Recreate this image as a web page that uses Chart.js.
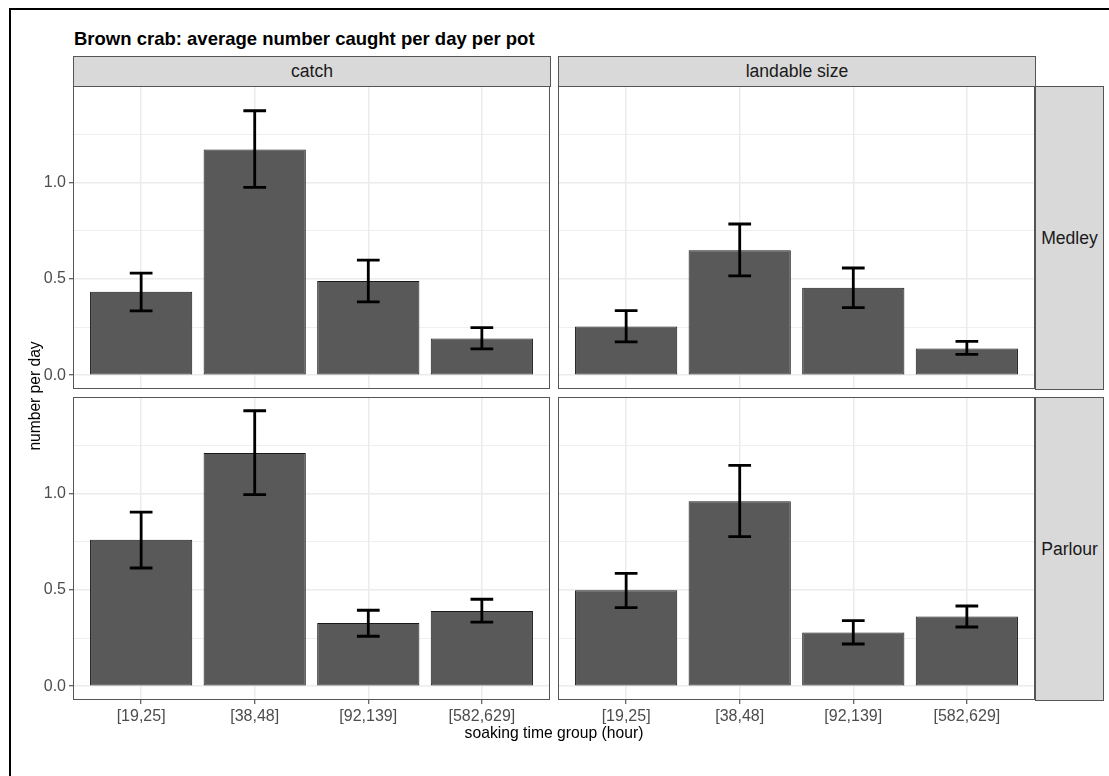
<!DOCTYPE html>
<html>
<head>
<meta charset="utf-8">
<script src="https://cdn.jsdelivr.net/npm/chart.js@4.4.1/dist/chart.umd.min.js"></script>
<style>
  body { margin: 0; background: #fff; font-family: "Liberation Sans", Arial, sans-serif; }
  #page { position: relative; width: 1109px; height: 776px; overflow: hidden; background: #fff; }
  canvas { position: absolute; }
  .line { position: absolute; background: #000; }
  .strip { position: absolute; box-sizing: border-box; background: #d9d9d9; border: 1px solid #555;
           color: #1a1a1a; font-size: 17.6px; display: flex; align-items: center; justify-content: center; }
  .txt { position: absolute; white-space: nowrap; }
</style>
</head>
<body>
<div id="page">
  <div class="line" style="left:9px;top:8px;width:2px;height:768px"></div>
  <div class="line" style="left:9px;top:8px;width:1100px;height:2px"></div>

  <div class="txt" style="left:74px;top:30px;font-size:18.5px;line-height:18px;font-weight:bold;color:#000">Brown crab: average number caught per day per pot</div>

  <div class="strip" style="left:73px;top:56px;width:478px;height:31px">catch</div>
  <div class="strip" style="left:558px;top:56px;width:478px;height:31px">landable size</div>
  <div class="strip" style="left:1035px;top:86px;width:69px;height:304px">Medley</div>
  <div class="strip" style="left:1035px;top:397px;width:69px;height:304px">Parlour</div>

  <canvas id="medleyCatch" width="527" height="303" style="left:23px;top:86px"></canvas>
  <canvas id="medleyLand" width="477" height="303" style="left:558px;top:86px"></canvas>
  <canvas id="parlourCatch" width="527" height="343" style="left:23px;top:397px"></canvas>
  <canvas id="parlourLand" width="477" height="343" style="left:558px;top:397px"></canvas>

  <div class="txt" style="left:-115px;top:387px;width:300px;text-align:center;font-size:15.6px;line-height:18px;color:#000;transform:rotate(-90deg)">number per day</div>
  <div class="txt" style="left:354px;top:724px;width:400px;text-align:center;font-size:15.7px;line-height:18px;color:#000">soaking time group (hour)</div>
</div>

<script>
const categories = ["[19,25]", "[38,48]", "[92,139]", "[582,629]"];
const yBreaks = [0, 0.25, 0.5, 0.75, 1, 1.25];
const yLabels = { 0: "0.0", 0.5: "0.5", 1: "1.0" };

// Medley
const medleyCatch = [0.433, 1.170, 0.489, 0.190];
const medleyCatchLo = [0.334, 0.974, 0.380, 0.137];
const medleyCatchHi = [0.529, 1.371, 0.597, 0.247];
const medleyLand = [0.252, 0.648, 0.453, 0.139];
const medleyLandLo = [0.173, 0.515, 0.350, 0.108];
const medleyLandHi = [0.335, 0.784, 0.556, 0.175];

// Parlour
const parlourCatch = [0.760, 1.209, 0.328, 0.390];
const parlourCatchLo = [0.613, 0.993, 0.259, 0.332];
const parlourCatchHi = [0.903, 1.428, 0.394, 0.451];
const parlourLand = [0.497, 0.959, 0.278, 0.361];
const parlourLandLo = [0.408, 0.776, 0.219, 0.307];
const parlourLandHi = [0.585, 1.145, 0.340, 0.416];

const FONT = "'Liberation Sans', Arial, sans-serif";

const panelFrame = {
  id: "panelFrame",
  afterDraw(chart) {
    const { ctx, chartArea: a } = chart;
    ctx.save();
    ctx.strokeStyle = "#555";
    ctx.lineWidth = 1;
    ctx.strokeRect(a.left + 0.5, a.top + 0.5, a.right - a.left - 1, a.bottom - a.top - 1);
    ctx.restore();
  },
};

// error bars drawn through the chart's own scales
const errorBars = {
  id: "errorBars",
  afterDatasetsDraw(chart) {
    const { ctx, scales: { x, y } } = chart;
    const ds = chart.data.datasets[0];
    ctx.save();
    ctx.strokeStyle = "#000";
    ctx.lineWidth = 2.8;
    ds.lo.forEach((lo, i) => {
      const cx = x.getPixelForValue(i + 1);
      const x0 = x.getPixelForValue(i + 0.9);
      const x1 = x.getPixelForValue(i + 1.1);
      const yl = y.getPixelForValue(lo);
      const yh = y.getPixelForValue(ds.hi[i]);
      ctx.beginPath();
      ctx.moveTo(cx, yl); ctx.lineTo(cx, yh);
      ctx.moveTo(x0, yl); ctx.lineTo(x1, yl);
      ctx.moveTo(x0, yh); ctx.lineTo(x1, yh);
      ctx.stroke();
    });
    ctx.restore();
  },
};

const isMajor = (v) => Math.abs(v * 2 - Math.round(v * 2)) < 1e-6;

function makePanel(id, vals, lo, hi, leftAxis, bottomAxis) {
  return new Chart(document.getElementById(id), {
    type: "bar",
    data: {
      datasets: [{
        data: vals.map((v, i) => ({ x: i + 1, y: v })),
        lo, hi,
        backgroundColor: "#595959",
        borderColor: "#1a1a1a",
        borderWidth: 1,
        borderSkipped: false,
        categoryPercentage: 0.9,
        barPercentage: 1,
      }],
    },
    options: {
      responsive: false,
      animation: false,
      events: [],
      layout: { padding: 0 },
      plugins: { legend: { display: false }, tooltip: { enabled: false } },
      scales: {
        x: {
          type: "linear",
          offset: false,
          min: 0.4,
          max: 4.6,
          afterBuildTicks: (s) => { s.ticks = categories.map((c, i) => ({ value: i + 1 })); },
          afterFit: (s) => { s.height = bottomAxis ? 40 : 0; s.paddingLeft = 0; s.paddingRight = 0; },
          border: { display: false },
          grid: { offset: false, color: "#ebebeb", lineWidth: 1.5, drawTicks: bottomAxis, tickLength: 4, tickColor: "#333", tickWidth: 1 },
          ticks: {
            display: bottomAxis,
            autoSkip: false,
            maxRotation: 0,
            padding: 3,
            color: "#4d4d4d",
            font: { family: FONT, size: 16 },
            callback: (v) => categories[Math.round(v) - 1],
          },
        },
        y: {
          min: -0.0714,
          max: 1.4994,
          afterBuildTicks: (s) => { s.ticks = yBreaks.map((v) => ({ value: v })); },
          afterFit: (s) => { s.width = leftAxis ? 50 : 0; s.paddingTop = 0; s.paddingBottom = 0; },
          border: { display: false },
          grid: {
            color: "#ebebeb",
            lineWidth: (c) => (isMajor(c.tick.value) ? 1.5 : 0.8),
            drawTicks: leftAxis,
            tickLength: 4,
            tickColor: (c) => (isMajor(c.tick.value) ? "#333" : "rgba(0,0,0,0)"),
            tickWidth: 1,
          },
          ticks: {
            display: leftAxis,
            padding: 3,
            color: "#4d4d4d",
            font: { family: FONT, size: 16 },
            callback: (v) => yLabels[v] || "",
          },
        },
      },
    },
    plugins: [panelFrame, errorBars],
  });
}

makePanel("medleyCatch", medleyCatch, medleyCatchLo, medleyCatchHi, true, false);
makePanel("medleyLand", medleyLand, medleyLandLo, medleyLandHi, false, false);
makePanel("parlourCatch", parlourCatch, parlourCatchLo, parlourCatchHi, true, true);
makePanel("parlourLand", parlourLand, parlourLandLo, parlourLandHi, false, true);
</script>
</body>
</html>
